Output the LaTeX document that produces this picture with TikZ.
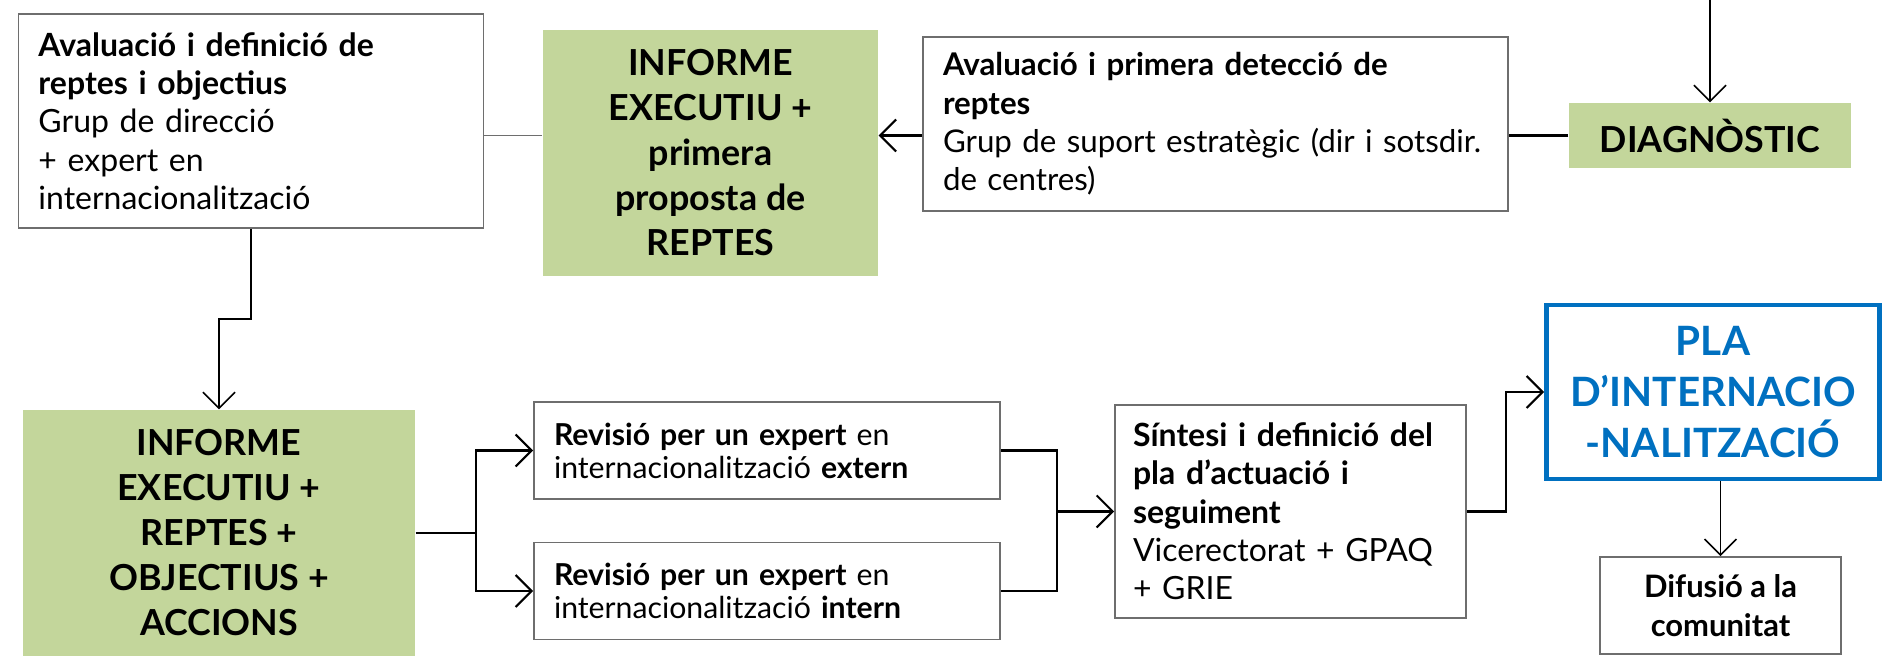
\documentclass[tikz,border=0pt]{standalone}
\usepackage{fontspec}
\setmainfont{Lato}
\usetikzlibrary{arrows.meta}
\definecolor{diagreen}{RGB}{195,214,155}
\definecolor{plablue}{RGB}{0,112,192}
\definecolor{boxgray}{RGB}{110,110,110}

\begin{document}
\begin{tikzpicture}[
    >={Straight Barb[length=1.6mm,width=3.2mm]},
    textbox/.style={draw=boxgray, line width=0.45pt, fill=white, inner xsep=0.2cm, align=left, font=\fontsize{9.1}{10.9}\selectfont},
    greenbox/.style={fill=diagreen, align=center, font=\bfseries\fontsize{10.2}{12.8}\selectfont},
    link/.style={line width=0.6pt},
    thinlink/.style={line width=0.45pt}
  ]
  \useasboundingbox (0,0) rectangle (18.82,6.56);

  % fila de dalt
  \node[textbox, text width=4.25cm, minimum height=2.14cm] (avadef) at (2.51,5.35)
    {\textbf{Avaluació i definició de}\\\textbf{reptes i objectius}\\Grup de direcció\\+ expert en\\internacionalització};
  \node[greenbox, minimum width=3.35cm, minimum height=2.46cm] (inf1) at (7.105,5.03)
    {INFORME\\EXECUTIU +\\primera\\proposta de\\REPTES};
  \node[textbox, text width=5.45cm, minimum height=1.74cm, font=\fontsize{8.9}{10.9}\selectfont] (avadet) at (12.155,5.32)
    {\textbf{Avaluació i primera detecció de}\\\textbf{reptes}\\\mbox{Grup de suport estratègic (dir i sotsdir.}\\de centres)};
  \node[greenbox, minimum width=2.82cm, minimum height=0.65cm] (diag) at (17.10,5.205) {DIAGNÒSTIC};
  \coordinate (topin) at (17.10,6.56);

  % fila de baix
  \node[greenbox, minimum width=3.92cm, minimum height=2.46cm] (inf2) at (2.19,1.23)
    {INFORME\\EXECUTIU +\\REPTES +\\OBJECTIUS +\\ACCIONS};
  \node[textbox, text width=4.26cm, minimum height=0.97cm, font=\fontsize{8.6}{9.4}\selectfont] (revext) at (7.67,2.055)
    {\textbf{Revisió per un expert} en\\internacionalització \textbf{extern}};
  \node[textbox, text width=4.26cm, minimum height=0.97cm, font=\fontsize{8.6}{9.4}\selectfont] (revint) at (7.67,0.65)
    {\textbf{Revisió per un expert} en\\internacionalització \textbf{intern}};
  \node[textbox, text width=3.15cm, inner xsep=0.18cm, minimum height=2.13cm] (sintesi) at (12.905,1.445)
    {\textbf{Síntesi i definició del}\\\textbf{pla d’actuació i}\\\textbf{seguiment}\\Vicerectorat + GPAQ\\+ GRIE};
  \node[draw=plablue, line width=1.4pt, text=plablue, align=center, minimum width=3.33cm, minimum height=1.74cm,
    font=\bfseries\fontsize{11.5}{14.4}\selectfont] (pla) at (17.13,2.64)
    {PLA\\D’INTERNACIO\\-NALITZACIÓ};
  \node[textbox, align=center, minimum width=2.41cm, minimum height=0.97cm, font=\bfseries\fontsize{8.8}{10.9}\selectfont] (difusio) at (17.205,0.505)
    {Difusió a la\\comunitat};
  \coordinate (join) at (10.57,1.445);

  % connectors
  \draw[thinlink,->] (topin) -- (diag.north);
  \draw[link] (diag.west) -- (diag.west -| avadet.east);
  \draw[link,->] (avadet.west |- diag) -- (inf1.east |- diag);
  \draw[thinlink,draw=boxgray] (avadef.east |- diag) -- (inf1.west |- diag);
  \draw[thinlink,->] (avadef.south) -- ++(0,-0.9) -| (inf2.north);
  \draw[link] (inf2.east) -- ++(0.6,0) coordinate (fork);
  \draw[link,->] (fork) |- (revext.west);
  \draw[link,->] (fork) |- (revint.west);
  \draw[link] (revext.east) -| (join) |- (revint.east);
  \draw[link,->] (join) -- (sintesi.west);
  \draw[link,->] (sintesi.east) -- ++(0.39,0) |- (pla.west);
  \draw[thinlink,->] (pla.south -| difusio.north) -- (difusio.north);
\end{tikzpicture}
\end{document}
